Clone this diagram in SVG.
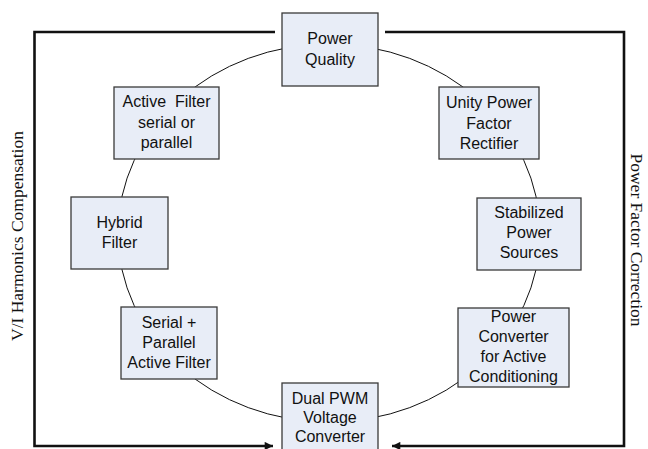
<svg xmlns="http://www.w3.org/2000/svg" width="648" height="449" viewBox="0 0 648 449">
<defs>
<style>
.box{fill:#e8edf7;stroke:#3a3a3a;stroke-width:1.3}
.t{font-family:"Liberation Sans",Arial,sans-serif;font-size:16px;fill:#111;text-anchor:middle}
.side{font-family:"Liberation Serif","Times New Roman",serif;font-size:17.5px;fill:#111;text-anchor:middle}
.thick{fill:none;stroke:#111;stroke-width:2.6}
.ring{fill:none;stroke:#111;stroke-width:1}
</style>
<marker id="ah" viewBox="0 0 10 10" refX="10" refY="5" markerWidth="4" markerHeight="3.2" markerUnits="strokeWidth" orient="auto">
<path d="M0,0 L10,5 L0,10 z" fill="#111"/>
</marker>
</defs>
<g id="connectors">
<ellipse class="ring" cx="329" cy="233" rx="211" ry="189"/>
<polyline class="thick" points="275,32 34.5,32 34.5,446 273,446" marker-end="url(#ah)"/>
<polyline class="thick" points="385,32 624,32 624,446 392,446" marker-end="url(#ah)"/>
</g>
<g id="side-left"><text class="side" transform="translate(23,236) rotate(-90)">V/I Harmonics Compensation</text></g>
<g id="side-right"><text class="side" transform="translate(631,240) rotate(90)">Power Factor Correction</text></g>
<g id="n-power-quality"><rect class="box" x="282" y="13" width="96" height="73"/>
<text class="t" x="330" y="44">Power</text><text class="t" x="330" y="65">Quality</text></g>
<g id="n-active-filter"><rect class="box" x="114" y="87" width="105" height="72"/>
<text class="t" x="166.5" y="107" xml:space="preserve">Active  Filter</text><text class="t" x="166.5" y="128">serial or</text><text class="t" x="166.5" y="148">parallel</text></g>
<g id="n-unity"><rect class="box" x="439" y="87" width="100" height="72"/>
<text class="t" x="489" y="108">Unity Power</text><text class="t" x="489" y="129">Factor</text><text class="t" x="489" y="149">Rectifier</text></g>
<g id="n-hybrid"><rect class="box" x="71" y="197" width="97" height="72"/>
<text class="t" x="119.5" y="228">Hybrid</text><text class="t" x="119.5" y="248">Filter</text></g>
<g id="n-stabilized"><rect class="box" x="477" y="198" width="104" height="72"/>
<text class="t" x="529" y="218">Stabilized</text><text class="t" x="529" y="238">Power</text><text class="t" x="529" y="258">Sources</text></g>
<g id="n-serial"><rect class="box" x="121" y="307" width="96" height="72"/>
<text class="t" x="169" y="328">Serial +</text><text class="t" x="169" y="348">Parallel</text><text class="t" x="169" y="368">Active Filter</text></g>
<g id="n-power-converter"><rect class="box" x="458" y="308" width="111" height="79"/>
<text class="t" x="513.5" y="322">Power</text><text class="t" x="513.5" y="342">Converter</text><text class="t" x="513.5" y="362">for Active</text><text class="t" x="513.5" y="382">Conditioning</text></g>
<g id="n-dual-pwm"><rect class="box" x="282" y="383" width="96" height="72"/>
<text class="t" x="330" y="404">Dual PWM</text><text class="t" x="330" y="423">Voltage</text><text class="t" x="330" y="442">Converter</text></g>
</svg>
